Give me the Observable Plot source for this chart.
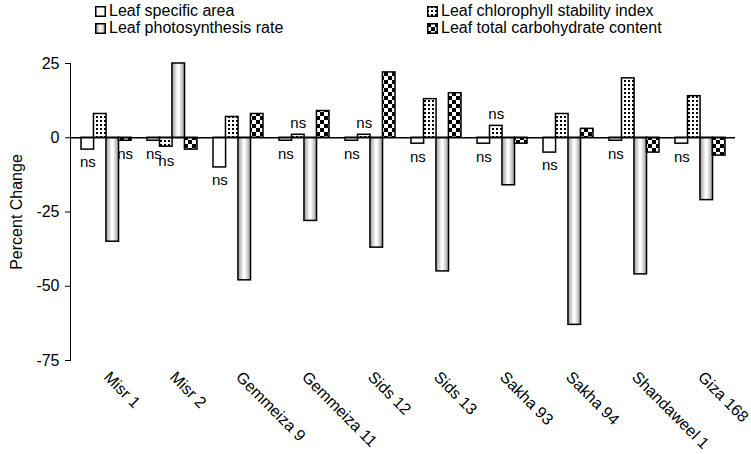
<!DOCTYPE html>
<html><head><meta charset="utf-8">
<script src="https://cdn.jsdelivr.net/npm/d3@7"></script>
<script src="https://cdn.jsdelivr.net/npm/@observablehq/plot@0.6"></script>
<style>
body{margin:0;background:#fff;font-family:"Liberation Sans",Arial,sans-serif;}
#legend{position:relative;height:40px;width:751px;font-size:16px;color:#000;}
.item{position:absolute;display:flex;align-items:center;white-space:nowrap;line-height:18px;}
.item svg{margin-right:3px;}
</style></head>
<body>
<svg width="0" height="0" style="position:absolute">
<defs>
<linearGradient id="gradLPR" x1="0" x2="1" y1="0" y2="0">
<stop offset="0" stop-color="#999999"/><stop offset="0.45" stop-color="#ffffff"/><stop offset="0.55" stop-color="#ffffff"/><stop offset="1" stop-color="#999999"/>
</linearGradient>
<pattern id="patLCSI" patternUnits="userSpaceOnUse" width="4" height="4">
<rect width="4" height="4" fill="#fff"/><rect x="0" y="0" width="2" height="2" fill="#000"/>
</pattern>
<pattern id="patLTCC" patternUnits="userSpaceOnUse" width="8" height="8">
<rect width="8" height="8" fill="#fff"/><rect x="0" y="0" width="4" height="4" fill="#000"/><rect x="4" y="4" width="4" height="4" fill="#000"/>
</pattern>
</defs>
</svg>
<div id="legend"></div>
<div id="chart"></div>
<script>
const cultivars = ["Misr 1","Misr 2","Gemmeiza 9","Gemmeiza 11","Sids 12","Sids 13","Sakha 93","Sakha 94","Shandaweel 1","Giza 168"];
const seriesNames = ["Leaf specific area","Leaf chlorophyll stability index","Leaf photosynthesis rate","Leaf total carbohydrate content"];
const leafSpecificArea = [-4, -1, -10, -1, -1, -2, -2, -5, -1, -2];
const chlorophyllStability = [8, -3, 7, 1, 1, 13, 4, 8, 20, 14];
const photosynthesisRate = [-35, 25, -48, -28, -37, -45, -16, -63, -46, -21];
const totalCarbohydrate = [-1, -4, 8, 9, 22, 15, -2, 3, -5, -6];
const nsLSA = [true,true,true,true,true,true,true,true,true,true];
const nsLCSI = [false,true,false,true,true,false,true,false,false,false];
const nsLPR = [false,false,false,false,false,false,false,false,false,false];
const nsLTCC = [true,false,false,false,false,false,false,false,false,false];
const yTicks = [25, 0, -25, -50, -75];

const fills = ["#ffffff","url(#patLCSI)","url(#gradLPR)","url(#patLTCC)"];
const valueArrays = [leafSpecificArea, chlorophyllStability, photosynthesisRate, totalCarbohydrate];
const nsArrays = [nsLSA, nsLCSI, nsLPR, nsLTCC];

// legend
const legendOrder = [[0, 95, 2],[2, 95, 19],[1, 427, 2],[3, 427, 19]];
const legend = document.getElementById("legend");
for (const [si, left, top] of legendOrder) {
  const d = document.createElement("div");
  d.className = "item";
  d.style.left = left + "px"; d.style.top = top + "px";
  d.innerHTML = `<svg width="11" height="11"><rect x="0.75" y="0.75" width="9.5" height="9.5" fill="${fills[si]}" stroke="#000" stroke-width="1.5"/></svg><span>${seriesNames[si]}</span>`;
  legend.appendChild(d);
}

const W = 751, H = 414, mL = 70, mR = 16, mT = 23, mB = 94;
const padIn = 0.25, padOut = 0.125;
const step = (W - mL - mR) / (cultivars.length - padIn + 2 * padOut);
const bw = step * (1 - padIn);
const q = bw / 4;

const marks = [];
for (let s = 0; s < 4; s++) {
  const data = cultivars.map((c, i) => ({cultivar: c, value: valueArrays[s][i], ns: nsArrays[s][i]}));
  marks.push(Plot.barY(data, {
    x: "cultivar", y: "value", fill: fills[s], stroke: "#000", strokeWidth: 1.5,
    insetLeft: s * q, insetRight: (3 - s) * q
  }));
  const nsData = data.filter(d => d.ns);
  marks.push(Plot.text(nsData.filter(d => d.value < 0), {
    x: "cultivar", y: "value", text: () => "ns", dx: (s - 1.5) * q, dy: s === 1 ? 15 : 13, fontSize: 15, fill: "#000"
  }));
  marks.push(Plot.text(nsData.filter(d => d.value >= 0), {
    x: "cultivar", y: "value", text: () => "ns", dx: (s - 1.5) * q, dy: -12, fontSize: 15, fill: "#000"
  }));
}
marks.push(Plot.ruleY([0], {stroke: "#000", strokeWidth: 1.5}));

const chart = Plot.plot({
  width: W, height: H,
  marginLeft: mL, marginRight: mR, marginTop: mT, marginBottom: mB,
  style: {fontSize: "16px", fontFamily: "'Liberation Sans', Arial, sans-serif", color: "#000", background: "#fff", overflow: "visible"},
  x: {domain: cultivars, paddingInner: padIn, paddingOuter: padOut, tickSize: 0, tickRotate: 45, tickPadding: 14, label: null},
  y: {domain: [-75, 25], ticks: yTicks, tickFormat: d => String(d), tickSize: 5, tickPadding: 6, line: true, label: "Percent Change", labelAnchor: "center", labelOffset: 60, labelArrow: "none"},
  marks
});
document.getElementById("chart").appendChild(chart);
</script>
</body></html>
